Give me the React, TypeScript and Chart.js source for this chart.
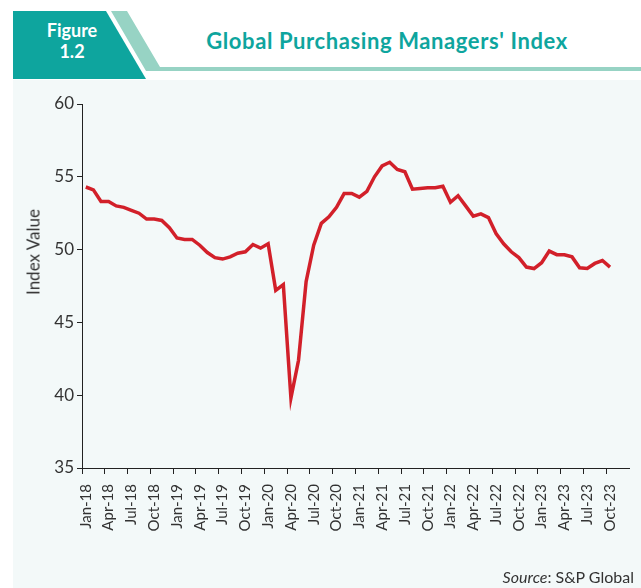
import React, { useEffect, useRef } from "react";
import { Chart, registerables } from "chart.js";

Chart.register(...registerables);

const MONTHS = ["Jan", "Feb", "Mar", "Apr", "May", "Jun", "Jul", "Aug", "Sep", "Oct", "Nov", "Dec"];
const YEARS = ["18", "19", "20", "21", "22", "23"];

const pmi2018 = [54.3, 54.1, 53.3, 53.3, 53.0, 52.9, 52.7, 52.5, 52.1, 52.1, 52.0, 51.5];
const pmi2019 = [50.8, 50.7, 50.7, 50.3, 49.8, 49.45, 49.35, 49.5, 49.75, 49.85, 50.35, 50.1];
const pmi2020 = [50.4, 47.2, 47.6, 39.8, 42.4, 47.8, 50.3, 51.8, 52.25, 52.9, 53.85, 53.85];
const pmi2021 = [53.6, 54.0, 55.0, 55.75, 56.0, 55.5, 55.35, 54.15, 54.2, 54.25, 54.25, 54.35];
const pmi2022 = [53.25, 53.7, 53.0, 52.3, 52.45, 52.2, 51.1, 50.4, 49.85, 49.45, 48.8, 48.7];
const pmi2023 = [49.1, 49.9, 49.65, 49.65, 49.5, 48.75, 48.7, 49.05, 49.25, 48.8, null, null];

const Y_TICKS = [35, 40, 45, 50, 55, 60];

const categories: string[] = [];
YEARS.forEach((y) => MONTHS.forEach((m) => categories.push(`${m}-${y}`)));
const values = [...pmi2018, ...pmi2019, ...pmi2020, ...pmi2021, ...pmi2022, ...pmi2023];

const FONT = "Lato, 'Noto Sans', sans-serif";
const TEXT = "#333333";
const TEAL = "#0ea59e";
const TEAL_LIGHT = "#97d3c4";

export default function App() {
  const ref = useRef<HTMLCanvasElement | null>(null);

  useEffect(() => {
    if (!ref.current) return;
    const chart = new Chart(ref.current, {
      type: "line",
      data: {
        labels: categories,
        datasets: [
          {
            data: values,
            borderColor: "#d2202a",
            borderWidth: 3.5,
            pointRadius: 0,
            tension: 0,
            fill: false,
          },
        ],
      },
      options: {
        animation: false,
        responsive: false,
        devicePixelRatio: 1,
        layout: { padding: { left: 0, top: 104, right: 12, bottom: 0 } },
        plugins: { legend: { display: false }, tooltip: { enabled: false }, title: { display: false } },
        scales: {
          x: {
            type: "category",
            offset: true,
            afterFit: (s: any) => {
              s.height = 120;
              s.paddingLeft = 0;
              s.paddingRight = 0;
            },
            border: { display: true, color: "#222", width: 1 },
            grid: {
              display: true,
              drawOnChartArea: false,
              drawTicks: true,
              tickLength: 6,
              offset: true,
              tickColor: (ctx: any) => (ctx.index % 3 === 0 ? "#222" : "rgba(0,0,0,0)"),
            },
            ticks: {
              autoSkip: false,
              maxRotation: 90,
              minRotation: 90,
              padding: 10,
              color: TEXT,
              font: { family: FONT, size: 15 },
              callback: (_v: any, i: number) => (i % 3 === 0 ? categories[i] : ""),
            },
          },
          y: {
            min: 35,
            max: 60,
            afterFit: (s: any) => {
              s.width = 82;
            },
            afterBuildTicks: (s: any) => {
              s.ticks = Y_TICKS.map((v) => ({ value: v }));
            },
            border: { display: true, color: "#222", width: 1 },
            grid: {
              display: true,
              drawOnChartArea: false,
              drawTicks: true,
              tickLength: 5,
              tickColor: "#222",
            },
            ticks: {
              padding: 3,
              color: TEXT,
              font: { family: FONT, size: 17 },
            },
          },
        },
      },
    });
    return () => chart.destroy();
  }, []);

  return (
    <div
      style={{
        position: "fixed",
        left: 0,
        top: 0,
        width: 641,
        height: 588,
        background: "#ffffff",
        overflow: "hidden",
        fontFamily: FONT,
      }}
    >
      <div
        style={{
          position: "absolute",
          left: 13,
          top: 80,
          width: 628,
          height: 508,
          background: "#f3f9f9",
        }}
      />
      <svg width={641} height={80} style={{ position: "absolute", left: 0, top: 0 }}>
        <polygon points="13,11 106,11 146,79 13,79" fill={TEAL} />
        <polygon points="111,11 127,11 160,67 641,67 641,71 146,71" fill={TEAL_LIGHT} />
      </svg>
      <div
        style={{
          position: "absolute",
          left: 22,
          top: 20,
          width: 100,
          textAlign: "center",
          color: "#ffffff",
          fontWeight: 700,
          fontSize: 18,
          lineHeight: "21px",
        }}
      >
        Figure
        <br />
        1.2
      </div>
      <div
        style={{
          position: "absolute",
          left: 160,
          top: 27,
          width: 454,
          textAlign: "center",
          color: TEAL,
          fontWeight: 700,
          fontSize: 22,
          letterSpacing: 0.6,
          lineHeight: "27px",
          whiteSpace: "nowrap",
        }}
      >
        Global Purchasing Managers' Index
      </div>
      <canvas
        ref={ref}
        width={641}
        height={588}
        style={{ position: "absolute", left: 0, top: 0, width: 641, height: 588 }}
      />
      <div
        style={{
          position: "absolute",
          left: 33,
          top: 252,
          transform: "translate(-50%, -50%) rotate(-90deg)",
          whiteSpace: "nowrap",
          color: TEXT,
          fontSize: 17,
        }}
      >
        Index Value
      </div>
      <div
        style={{
          position: "absolute",
          right: 7,
          top: 567,
          whiteSpace: "nowrap",
          color: TEXT,
          fontSize: 16,
        }}
      >
        <i>Source</i>: S&amp;P Global
      </div>
    </div>
  );
}
